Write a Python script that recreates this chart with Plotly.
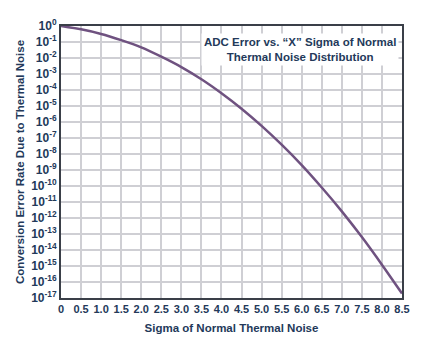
import plotly.graph_objects as go

# Sigma multiples (x) and conversion error rate
sigma = [0.0, 0.5, 1.0, 1.5, 2.0, 2.5, 3.0, 3.5, 4.0, 4.5, 5.0, 5.5, 6.0, 6.5, 7.0, 7.5, 8.0, 8.5]
error_rate = [1.0, 0.62, 0.32, 0.13, 0.046, 0.012, 2.7e-3, 4.7e-4, 6.3e-5, 6.8e-6,
              5.7e-7, 3.8e-8, 2.0e-9, 8.0e-11, 2.6e-12, 6.4e-14, 1.2e-15, 1.9e-17]

x_ticks = [0, 0.5, 1.0, 1.5, 2.0, 2.5, 3.0, 3.5, 4.0, 4.5, 5.0, 5.5, 6.0, 6.5, 7.0, 7.5, 8.0, 8.5]
x_tick_text = ["0", "0.5", "1.0", "1.5", "2.0", "2.5", "3.0", "3.5", "4.0", "4.5",
               "5.0", "5.5", "6.0", "6.5", "7.0", "7.5", "8.0", "8.5"]
y_exponents = list(range(0, -18, -1))

navy = "#23395a"
font_family = "Liberation Sans, Arial, sans-serif"

fig = go.Figure()
fig.add_trace(go.Scatter(
    x=sigma, y=error_rate, mode="lines",
    line=dict(color="#6f5280", width=2.5, shape="spline", smoothing=0.6),
    showlegend=False, hoverinfo="skip",
))

fig.update_layout(
    width=428, height=344,
    margin=dict(l=61, r=26, t=26, b=46),
    paper_bgcolor="white", plot_bgcolor="white",
    font=dict(family=font_family, color=navy),
    xaxis=dict(
        range=[0, 8.5], tickvals=x_ticks, ticktext=["<b>%s</b>" % t for t in x_tick_text],
        tickfont=dict(size=11, color=navy, family=font_family),
        showgrid=True, gridcolor="#cfcfd4", gridwidth=1.5,
        showline=True, linecolor="#3a3f48", linewidth=2, mirror=True,
        ticks="", zeroline=False,
        title=dict(text="<b>Sigma of Normal Thermal Noise</b>",
                   font=dict(size=11.5, color=navy), standoff=10),
    ),
    yaxis=dict(
        type="log", range=[-17, 0],
        tickvals=[10 ** e for e in y_exponents],
        ticktext=["<b>10<sup>%d</sup></b>" % e for e in y_exponents],
        tickfont=dict(size=12, color=navy, family=font_family),
        showgrid=True, gridcolor="#cfcfd4", gridwidth=1.5,
        showline=True, linecolor="#3a3f48", linewidth=2, mirror=True,
        ticks="", zeroline=False,
        title=dict(text="<b>Conversion Error Rate Due to Thermal Noise</b>",
                   font=dict(size=11.5, color=navy), standoff=4),
    ),
    annotations=[dict(
        x=0.99, y=0.975, xref="paper", yref="paper",
        xanchor="right", yanchor="top",
        text="<b>ADC Error vs. \u201cX\u201d Sigma of Normal<br>Thermal Noise Distribution</b>",
        showarrow=False, align="center",
        font=dict(size=11.5, color=navy, family=font_family),
        bgcolor="white", borderpad=2,
    )],
)

fig.write_html("out.html")
